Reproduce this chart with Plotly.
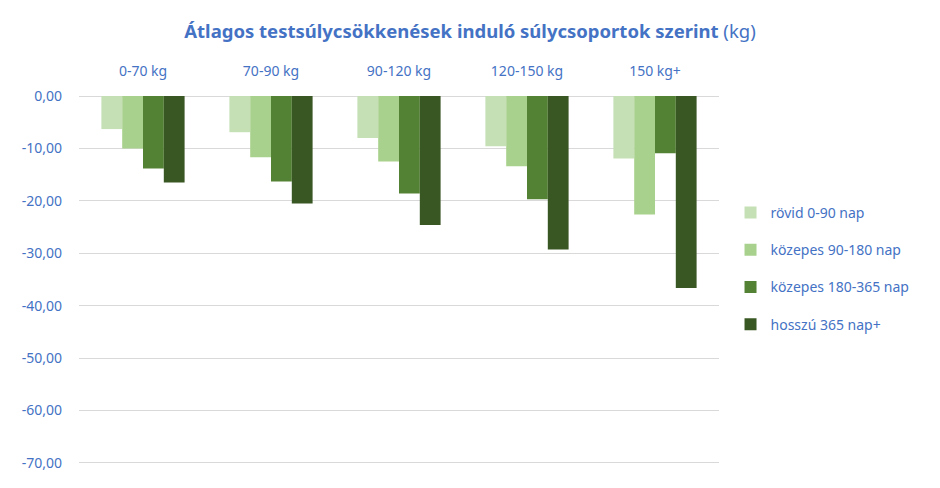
import plotly.graph_objects as go

categories = ["0-70 kg", "70-90 kg", "90-120 kg", "120-150 kg", "150 kg+"]
series_names = ["rövid 0-90 nap", "közepes 90-180 nap", "közepes 180-365 nap", "hosszú 365 nap+"]
rovid = [-6.3, -6.9, -8.0, -9.6, -11.9]
kozepes_90_180 = [-10.0, -11.7, -12.5, -13.4, -22.6]
kozepes_180_365 = [-13.8, -16.3, -18.6, -19.7, -10.9]
hosszu = [-16.5, -20.5, -24.6, -29.3, -36.6]
series_values = [rovid, kozepes_90_180, kozepes_180_365, hosszu]
colors = ["#C5E0B4", "#A9D18E", "#548235", "#385723"]
tick_values = [0, -10, -20, -30, -40, -50, -60, -70]
tick_labels = [f"{v:.2f}".replace(".", ",") for v in tick_values]

TEXT = "#4472C4"
FONT = "Noto Sans"

fig = go.Figure()
for i, (name, vals) in enumerate(zip(series_names, series_values)):
    fig.add_trace(go.Bar(
        x=categories, y=vals, name=name,
        marker=dict(color=colors[i], line=dict(width=0)),
        legendgroup=f"g{i}",
    ))

fig.update_layout(
    width=940, height=488,
    paper_bgcolor="white", plot_bgcolor="white",
    font=dict(family=FONT, color=TEXT, size=14),
    title=dict(
        text="<b>Átlagos testsúlycsökkenések induló súlycsoportok szerint</b> (kg)",
        x=0.5, xanchor="center", y=0.935, yanchor="middle",
        font=dict(size=18.5, color=TEXT, family=FONT),
    ),
    barmode="group", bargap=0.35, bargroupgap=0,
    margin=dict(l=79, r=221, t=95, b=24),
    legend=dict(
        x=1.018, xanchor="left", y=0.53, yanchor="middle",
        font=dict(size=14, color=TEXT, family=FONT),
        tracegroupgap=16, itemwidth=30, bgcolor="rgba(0,0,0,0)",
    ),
    showlegend=True,
)
fig.update_xaxes(
    side="top", showgrid=False, showline=False, zeroline=False,
    tickfont=dict(size=14, color=TEXT), ticks="", ticklabelstandoff=15,
)
fig.update_yaxes(
    range=[-70.2, 0.2], tickvals=tick_values, ticktext=tick_labels,
    showgrid=True, gridcolor="#D9D9D9", gridwidth=1,
    zeroline=False, showline=False, ticks="",
    tickfont=dict(size=14, color=TEXT), ticklabelstandoff=16,
)

fig.write_html("out.html")
